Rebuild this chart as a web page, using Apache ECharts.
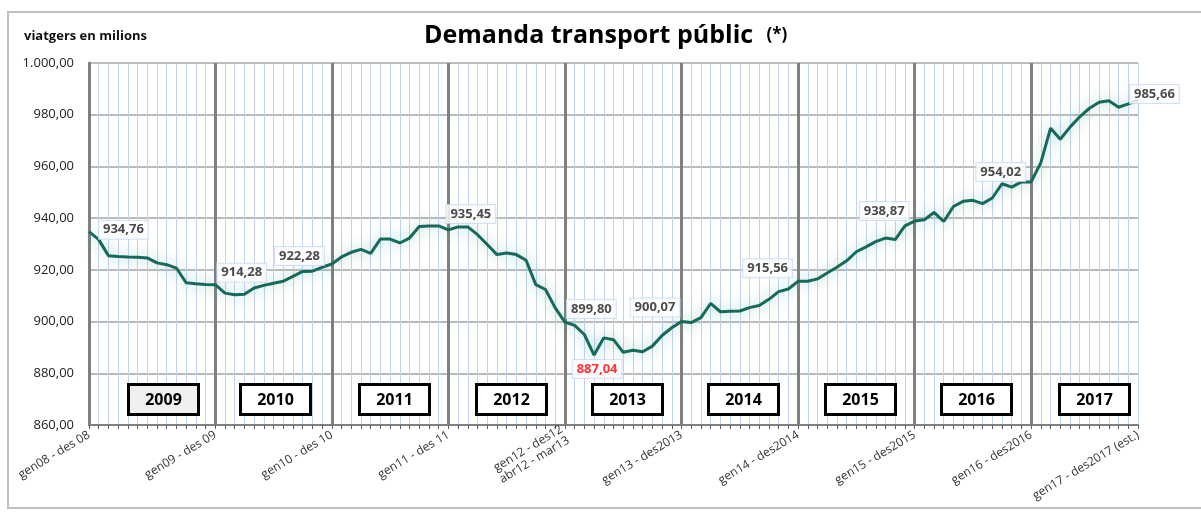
<!DOCTYPE html>
<html>
<head>
<meta charset="utf-8">
<script src="https://cdn.jsdelivr.net/npm/echarts@6/dist/echarts.min.js"></script>
<style>
  html, body { margin: 0; padding: 0; background: #fff; }
  #chart { width: 1201px; height: 512px; }
</style>
</head>
<body>
<div id="chart"></div>
<script>
// rolling 12-month demand, millions of passengers (one point per month)
const values = [
  934.76, 931.7, 925.5, 925.2, 925.0, 924.9, 924.6, 922.7, 922.0, 920.7, 915.0, 914.6, 914.3,
  914.28, 911.0, 910.4, 910.6, 913.0, 914.0, 914.8, 915.6, 917.5, 919.4, 919.5, 921.0,
  922.28, 925.0, 926.8, 927.9, 926.4, 931.9, 931.9, 930.4, 932.3, 936.8, 937.0, 937.0,
  935.45, 936.6, 936.6, 933.6, 929.8, 925.9, 926.5, 925.9, 923.7, 914.3, 912.4, 905.3,
  899.80, 898.5, 895.0, 887.04, 893.7, 893.0, 888.1, 888.9, 888.3, 890.5, 894.6, 897.6,
  900.07, 899.6, 901.5, 907.0, 903.8, 904.0, 904.1, 905.4, 906.2, 908.6, 911.6, 912.6,
  915.56, 915.6, 916.5, 918.8, 921.0, 923.5, 927.0, 928.9, 930.9, 932.3, 931.7, 937.0,
  938.87, 939.4, 942.2, 938.7, 944.5, 946.5, 946.9, 945.6, 947.8, 953.3, 952.0, 954.0,
  954.02, 961.5, 974.8, 970.5, 975.2, 979.2, 982.5, 984.8, 985.4, 982.9, 984.2, 985.66
];

// x tick labels and where they sit
const tickIdx = [0, 13, 25, 37, 49, 61, 73, 85, 97, 108];
const tickLabels = [
  'gen08 - des 08', 'gen09 - des 09', 'gen10 - des 10', 'gen11 - des 11',
  'gen12 - des12\nabr12 - mar13', 'gen13 - des2013', 'gen14 - des2014',
  'gen15 - des2015', 'gen16 - des2016', 'gen17 - des2017 (est.)'
];
// year separators
const yearLineIdx = [0, 13, 25, 37, 49, 61, 73, 85, 97];

// year boxes
const years = ['2009', '2010', '2011', '2012', '2013', '2014', '2015', '2016', '2017'];
const yearPos = [7.6, 19.2, 31.4, 43.4, 55.4, 67.3, 79.4, 91.3, 103.5];
const yearBoxY = 870;

// labelled points
const labelIdx = [0, 13, 25, 37, 49, 52, 61, 73, 85, 97, 108];

const categories = values.map((v, i) => String(i));

function fmt(v) {
  const p = v.toFixed(2).split('.');
  return p[0].replace(/\B(?=(\d{3})+(?!\d))/g, '.') + ',' + p[1];
}

const labelPlace = {
  0:   { position: 'right', distance: 10, offset: [0, -2] },
  13:  { position: 'right', distance: 2, offset: [0, -12] },
  25:  { position: 'left', distance: 8, offset: [0, -8] },
  37:  { position: 'right', distance: -2, offset: [0, -16] },
  49:  { position: 'right', distance: 2, offset: [0, -13] },
  52:  { position: 'bottom', distance: 5, offset: [3, 0], color: '#ff0000' },
  61:  { position: 'left', distance: 2, offset: [0, -14] },
  73:  { position: 'left', distance: 6, offset: [0, -13] },
  85:  { position: 'left', distance: 6, offset: [0, -10] },
  97:  { position: 'left', distance: 6, offset: [0, -10] },
  108: { position: 'right', distance: -8, offset: [0, -6] }
};

const chart = echarts.init(document.getElementById('chart'));

const option = {
  animation: false,
  textStyle: { fontFamily: 'Open Sans' },
  graphic: [{
    type: 'rect',
    shape: { x: 8, y: 12, width: 1200, height: 496 },
    style: { fill: 'none', stroke: '#c0c0c0', lineWidth: 2 },
    silent: true
  }, {
    type: 'text',
    left: 24,
    top: 30,
    style: { text: 'viatgers en milions', font: 'bold 13px "Open Sans"', fill: '#111' }
  }, {
    type: 'text',
    left: 424,
    top: 23,
    style: {
      text: '{a|Demanda transport públic}    {b|(*)}',
      rich: {
        a: { font: 'bold 25px "Open Sans"', fill: '#000' },
        b: { font: 'bold 17px "Open Sans"', fill: '#000' }
      }
    }
  }],
  grid: { left: 89, right: 63, top: 63, bottom: 87 },
  xAxis: [{
    type: 'category',
    data: categories,
    boundaryGap: false,
    axisLine: { lineStyle: { color: '#808080', width: 2 } },
    axisTick: { show: true, interval: 0, length: 4, lineStyle: { color: '#606060' } },
    axisLabel: {
      interval: (i) => tickIdx.includes(i),
      formatter: (v, i) => tickLabels[tickIdx.indexOf(i)] || '',
      rotate: 31,
      margin: 9,
      fontSize: 12,
      color: '#333',
      lineHeight: 13
    },
    splitLine: { show: true, interval: 0, lineStyle: { color: '#c3d3ef', width: 1 } }
  }, {
    type: 'category',
    data: categories,
    boundaryGap: false,
    position: 'bottom',
    axisLine: { show: false },
    axisTick: { show: false },
    axisLabel: { show: false },
    splitLine: {
      show: true,
      interval: (i) => yearLineIdx.includes(i),
      lineStyle: { color: '#808080', width: 3 }
    }
  }, {
    type: 'value',
    min: 0,
    max: values.length - 1,
    show: false
  }],
  yAxis: {
    type: 'value',
    min: 860,
    max: 1000,
    interval: 20,
    axisLine: { show: true, lineStyle: { color: '#808080', width: 3 } },
    axisTick: { show: false },
    axisLabel: { formatter: fmt, fontSize: 13, color: '#222', margin: 15 },
    splitLine: { lineStyle: { color: '#a6a6a6', width: 1.5 } }
  },
  series: [{
    type: 'line',
    data: values,
    xAxisIndex: 0,
    showSymbol: false,
    lineStyle: {
      color: '#17695c',
      width: 3,
      shadowColor: 'rgba(50,160,140,0.55)',
      shadowBlur: 14
    },
    z: 3
  }, {
    type: 'scatter',
    xAxisIndex: 0,
    symbolSize: 0,
    data: labelIdx.map(i => {
      const p = labelPlace[i];
      return {
        value: [i, values[i]],
        label: {
          position: p.position,
          distance: p.distance,
          offset: p.offset,
          color: p.color || '#1a1a1a'
        }
      };
    }),
    label: {
      show: true,
      formatter: (d) => fmt(d.value[1]),
      fontSize: 13,
      fontWeight: 'bold',
      backgroundColor: '#fff',
      borderColor: '#c9d9f1',
      borderWidth: 1,
      padding: [3, 4, 2, 4]
    },
    z: 5
  }, {
    type: 'custom',
    xAxisIndex: 2,
    data: yearPos.map((x, k) => [x, yearBoxY, k]),
    renderItem: (params, api) => {
      const c = api.coord([api.value(0), api.value(1)]);
      const k = api.value(2);
      const w = 70, h = 30;
      const x = Math.round(c[0] - w / 2) + 0.5;
      const y = Math.round(c[1] - h / 2) + 0.5;
      return {
        type: 'group',
        children: [{
          type: 'rect',
          shape: { x: x, y: y, width: w, height: h },
          style: { fill: k === 0 ? '#efefef' : '#fff', stroke: '#000', lineWidth: 3 }
        }, {
          type: 'text',
          style: {
            text: years[k],
            x: x + w / 2,
            y: y + h / 2 + 1,
            align: 'center',
            verticalAlign: 'middle',
            font: 'bold 16px "Open Sans"',
            fill: '#000'
          }
        }]
      };
    },
    z: 6
  }]
};

chart.setOption(option);
</script>
</body>
</html>
